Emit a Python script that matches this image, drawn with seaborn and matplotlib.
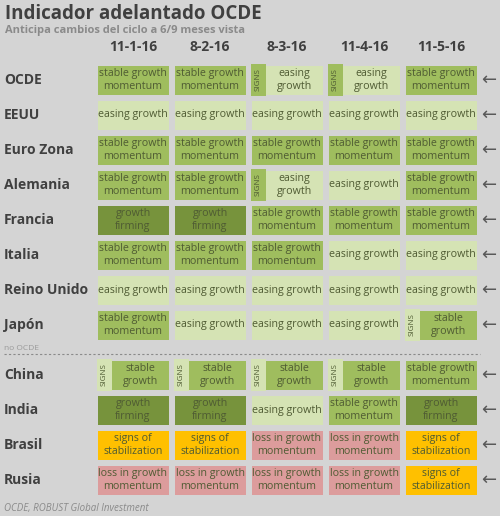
import matplotlib
matplotlib.use("Agg")
import matplotlib.pyplot as plt
import seaborn as sns
import numpy as np
from matplotlib.colors import ListedColormap
from matplotlib.patches import Rectangle

dates = ["11-1-16", "8-2-16", "8-3-16", "11-4-16", "11-5-16"]
oecd_rows = ["OCDE", "EEUU", "Euro Zona", "Alemania", "Francia", "Italia", "Reino Unido", "Japón"]
non_oecd_rows = ["China", "India", "Brasil", "Rusia"]
# codes: S stable growth momentum, E easing growth, F growth firming,
# Se SIGNS easing growth, Ss SIGNS stable growth, Z signs of stabilization, L loss in growth momentum
oecd_vals = [
    ["S", "S", "Se", "Se", "S"],
    ["E", "E", "E", "E", "E"],
    ["S", "S", "S", "S", "S"],
    ["S", "S", "Se", "E", "S"],
    ["F", "F", "S", "S", "S"],
    ["S", "S", "S", "E", "E"],
    ["E", "E", "E", "E", "E"],
    ["S", "E", "E", "E", "Ss"],
]
non_oecd_vals = [
    ["Ss", "Ss", "Ss", "Ss", "S"],
    ["F", "F", "E", "S", "F"],
    ["Z", "Z", "L", "L", "Z"],
    ["L", "L", "L", "L", "Z"],
]

C_S, C_E, C_F, C_Z, C_L = "#9fbd5e", "#d5e3b4", "#77933c", "#ffc000", "#dc9c9c"
BG = "#d4d4d4"
order = ["S", "E", "F", "Se", "Ss", "Z", "L"]
main_col = {"S": C_S, "E": C_E, "F": C_F, "Se": C_E, "Ss": C_S, "Z": C_Z, "L": C_L}
strip_col = {"Se": C_S, "Ss": C_E}
labels = {"S": "stable growth\nmomentum", "E": "easing growth", "F": "growth\nfirming",
          "Se": "easing\ngrowth", "Ss": "stable\ngrowth", "Z": "signs of\nstabilization",
          "L": "loss in growth\nmomentum"}
cmap = ListedColormap([main_col[k] for k in order])

W, H = 500, 516
fig = plt.figure(figsize=(W / 100, H / 100), dpi=100, facecolor=BG)
TXT = "#4f5b33"

def draw(vals, rows, top_px):
    n = len(rows)
    ax = fig.add_axes([94.5 / W, 1 - (top_px + 35 * n) / H, 385 / W, 35 * n / H])
    idx = np.array([[order.index(v) for v in r] for r in vals])
    sns.heatmap(idx, ax=ax, cmap=cmap, vmin=-0.5, vmax=len(order) - 0.5, cbar=False,
                linewidths=3.2, linecolor=BG, xticklabels=False, yticklabels=False)
    ax.set_facecolor(BG)
    for i, r in enumerate(vals):
        for j, v in enumerate(r):
            cx = j + 0.5
            if v in strip_col:
                ax.add_patch(Rectangle((j + 0.03, i + 0.05), 0.2, 0.9, color=strip_col[v], lw=0))
                ax.text(j + 0.13, i + 0.5, "SIGNS", rotation=90, ha="center", va="center",
                        fontsize=5.8, color=TXT, family="Open Sans")
                cx = j + 0.6
            ax.text(cx, i + 0.5, labels[v], ha="center", va="center", fontsize=7.7,
                    color=TXT, family="Open Sans", linespacing=1.2)
        yc = (top_px + 35 * i + 17.5) / H
        fig.text(4 / W, 1 - yc, rows[i], fontsize=10, fontweight="bold", color="#404040",
                 va="center", family="Open Sans")
        fig.text(489 / W, 1 - yc, "←", fontsize=13, color="#595959", va="center", ha="center")
    return ax

draw(oecd_vals, oecd_rows, 62.5)
draw(non_oecd_vals, non_oecd_rows, 357.5)

for j, d in enumerate(dates):
    fig.text((94.5 + 77 * j + 38.5) / W, 1 - 47 / H, d, ha="center", va="center",
             fontsize=10, fontweight="bold", color="#404040", family="Open Sans")
fig.text(5 / W, 1 - 14 / H, "Indicador adelantado OCDE", fontsize=13.5, fontweight="bold",
         color="#404040", va="center", family="Open Sans")
fig.text(5 / W, 1 - 31 / H, "Anticipa cambios del ciclo a 6/9 meses vista", fontsize=8,
         fontweight="bold", color="#8a8a8a", va="center", family="Open Sans")
fig.text(4 / W, 1 - 349 / H, "no OCDE", fontsize=6, color="#9a9a9a", va="center", family="Open Sans")
fig.add_artist(plt.Line2D([4 / W, 480 / W], [1 - 354 / H] * 2, color="#8a8a8a", lw=0.8, ls=(0, (2, 2))))
fig.text(4 / W, 1 - 508 / H, "OCDE, ROBUST Global Investment", fontsize=7, style="italic",
         color="#8a8a8a", va="center", family="Open Sans")

fig.savefig("out.png", dpi=100, facecolor=BG)
